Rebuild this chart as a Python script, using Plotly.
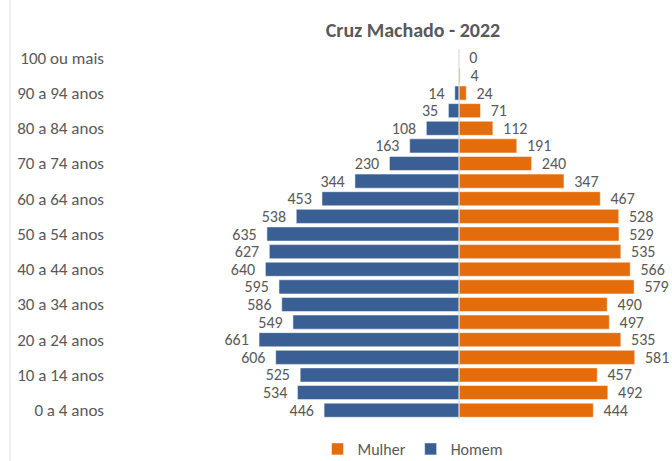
import plotly.graph_objects as go

categorias = ["0 a 4 anos", "5 a 9 anos", "10 a 14 anos", "15 a 19 anos", "20 a 24 anos",
              "25 a 29 anos", "30 a 34 anos", "35 a 39 anos", "40 a 44 anos", "45 a 49 anos",
              "50 a 54 anos", "55 a 59 anos", "60 a 64 anos", "65 a 69 anos", "70 a 74 anos",
              "75 a 79 anos", "80 a 84 anos", "85 a 89 anos", "90 a 94 anos", "95 a 99 anos",
              "100 ou mais"]
homem = [446, 534, 525, 606, 661, 549, 586, 595, 640, 627, 635, 538, 453, 344, 230,
         163, 108, 35, 14, 0, 0]
mulher = [444, 492, 457, 581, 535, 497, 490, 579, 566, 535, 529, 528, 467, 347, 240,
          191, 112, 71, 24, 4, 0]
rotulos_eixo = categorias[::2]

W, H = 672, 461
L, R, T, B = 112, 12, 49, 42
scale = 0.3025  # px per person
zero_px = 459
xmin = -(zero_px - L) / scale
xmax = (W - R - zero_px) / scale
PW, PH = W - L - R, H - T - B

gray = "#595959"
font_family = "Carlito, Calibri, 'Noto Sans', sans-serif"
pad = "\u00a0\u00a0"

fig = go.Figure()
fig.add_trace(go.Bar(
    y=categorias, x=mulher, orientation="h", name="Mulher",
    marker=dict(color="#E46C0A", line=dict(color="white", width=0.5)),
    text=[pad + str(v) for v in mulher], textposition="outside", constraintext="none",
    textfont=dict(size=16, color=gray, family=font_family),
    cliponaxis=False,
))
fig.add_trace(go.Bar(
    y=categorias, x=[-v for v in homem], orientation="h", name="Homem",
    marker=dict(color="#3A5F94", line=dict(color="white", width=0.5)),
    text=[str(v) + pad if v > 0 else "" for v in homem], textposition="outside",
    constraintext="none",
    textfont=dict(size=16, color=gray, family=font_family),
    cliponaxis=False,
))

fig.update_layout(
    width=W, height=H,
    margin=dict(l=L, r=R, t=T, b=B, autoexpand=False),
    barmode="relative", bargap=0.2,
    paper_bgcolor="white", plot_bgcolor="white",
    font=dict(family=font_family, color=gray, size=16),
    title=dict(text="<b>Cruz Machado - 2022</b>", x=(413 - L) / PW, xref="paper",
               xanchor="center", y=1 - 30 / H, yanchor="middle",
               font=dict(size=20, color=gray, family=font_family)),
    xaxis=dict(range=[xmin, xmax], visible=False, fixedrange=True),
    yaxis=dict(type="category", categoryorder="array", categoryarray=categorias,
               tickmode="array", tickvals=rotulos_eixo, ticktext=rotulos_eixo,
               showgrid=False, showline=False, ticks="", ticklabelstandoff=7,
               tickfont=dict(size=17, color=gray, family=font_family),
               range=[-0.5, 20.5], fixedrange=True),
    legend=dict(orientation="h", x=(413 - L) / PW, xanchor="center",
                y=-(449 - (H - B)) / PH, yanchor="middle",
                font=dict(size=16, color=gray, family=font_family),
                itemwidth=30, traceorder="normal"),
    showlegend=True,
    shapes=[
        dict(type="line", xref="x", yref="paper", x0=0, x1=0, y0=0, y1=1,
             line=dict(color="#D0D0D0", width=1), layer="above"),
        dict(type="line", xref="paper", yref="paper",
             x0=(10 - L) / PW, x1=(10 - L) / PW,
             y0=-B / PH, y1=1 + T / PH,
             line=dict(color="#E0E0E0", width=1)),
    ],
)

fig.write_html("out.html", config={"displayModeBar": False},
               post_script="document.body.style.margin='0';")
